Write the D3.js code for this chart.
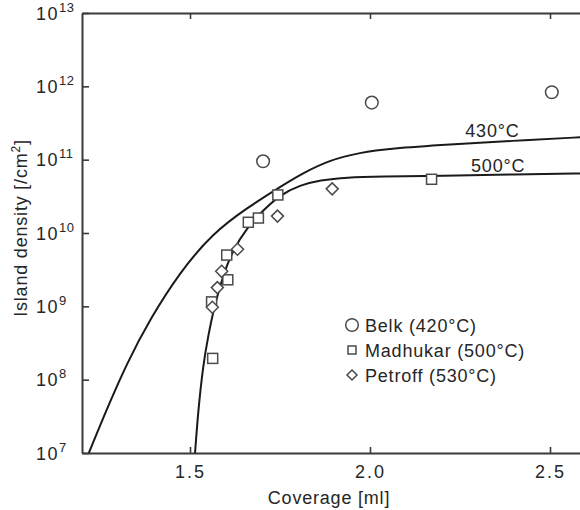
<!DOCTYPE html>
<html>
<head>
<meta charset="utf-8">
<script src="https://cdn.jsdelivr.net/npm/d3@7"></script>
<style>
  html, body { margin: 0; padding: 0; background: #fff; }
  svg { display: block; font-family: "Liberation Sans", Arial, sans-serif; }
  svg text { letter-spacing: 0.8px; }
</style>
</head>
<body>
<svg id="chart" width="580" height="510"></svg>
<script>
(function () {
    'use strict';

    // tick labels
    const xTicks = [1.5, 2.0, 2.5];
    const yExps = [7, 8, 9, 10, 11, 12, 13];

    // model curves
    const c430X = [1.219, 1.269, 1.325, 1.389, 1.472, 1.564, 1.658, 1.750, 1.814, 1.889, 1.972, 2.056, 2.222, 2.389, 2.6];
    const c430Y = [1e7, 3.98e7, 1.69e8, 6.7e8, 2.94e9, 1.0e10, 2.19e10, 4.24e10, 6.58e10, 9.9e10, 1.25e11, 1.42e11, 1.61e11, 1.80e11, 2.04e11];

    const c500X = [1.514, 1.523, 1.537, 1.551, 1.565, 1.593, 1.620, 1.657, 1.704, 1.750, 1.806, 1.861, 1.935, 2.028, 2.2, 2.4, 2.6];
    const c500Y = [1e7, 3.9e7, 1.66e8, 4.0e8, 8.9e8, 2.8e9, 5.9e9, 1.16e10, 2.06e10, 3.3e10, 4.5e10, 5.25e10, 5.75e10, 5.9e10, 6.0e10, 6.3e10, 6.5e10];

    // measurements
    const belkX = [1.703, 2.005, 2.505];
    const belkY = [9.5e10, 6.0e11, 8.3e11];

    const madX = [1.744, 1.690, 1.662, 1.602, 1.605, 1.560, 1.563, 2.171];
    const madY = [3.3e10, 1.6e10, 1.4e10, 5.0e9, 2.3e9, 1.15e9, 1.95e8, 5.4e10];

    const petX = [1.895, 1.743, 1.632, 1.588, 1.576, 1.562];
    const petY = [4.0e10, 1.7e10, 6.0e9, 3.0e9, 1.8e9, 9.7e8];

    const legNames = ['Belk (420°C)', 'Madhukar (500°C)', 'Petroff (530°C)'];
    const legShapes = ['circle', 'square', 'diamond'];

    const ma = { top: 13, left: 82, right: 586, bottom: 453 };
    const sv = d3.select('#chart');
    const axCol = '#3a3a3a';
    const txCol = '#262626';

    const x = d3.scaleLinear().domain([1.2, 2.6]).range([ma.left, ma.right]);
    const y = d3.scaleLog().domain([1e7, 1e13]).range([ma.bottom, ma.top]);

    sv.append('defs').append('clipPath').attr('id', 'clip')
        .append('rect')
        .attr('x', ma.left).attr('y', ma.top)
        .attr('width', ma.right - ma.left).attr('height', ma.bottom - ma.top);

    function styleAxis(g) {
        g.select('.domain').attr('stroke', axCol).attr('stroke-width', 2);
        g.selectAll('.tick line').attr('stroke', axCol).attr('stroke-width', 1.6);
        g.attr('font-family', null).attr('font-size', null);
    }

    // bottom
    const gx = sv.append('g')
        .attr('transform', `translate(0,${ma.bottom})`)
        .call(d3.axisBottom(x).tickValues(xTicks).tickFormat(d3.format('.1f'))
            .tickSizeInner(-6).tickSizeOuter(0).tickPadding(12))
        .call(styleAxis);
    gx.selectAll('text')
        .attr('fill', txCol)
        .style('font-size', '18px')
        .style('letter-spacing', '2px');

    // top
    sv.append('g')
        .attr('transform', `translate(0,${ma.top})`)
        .call(d3.axisTop(x).tickValues(xTicks).tickFormat('')
            .tickSizeInner(-6).tickSizeOuter(0))
        .call(styleAxis);

    // left
    const gy = sv.append('g')
        .attr('transform', `translate(${ma.left},0)`)
        .call(d3.axisLeft(y).tickValues(yExps.map(e => Math.pow(10, e)))
            .tickSizeInner(-7).tickSizeOuter(0))
        .call(styleAxis);
    gy.selectAll('.tick text').remove();
    gy.selectAll('.tick').each(function (d, i) {
        const t = d3.select(this).append('text')
            .attr('x', 36 - ma.left)
            .attr('dy', '0.35em')
            .attr('text-anchor', 'start')
            .attr('fill', txCol)
            .style('font-size', '18px')
            .style('letter-spacing', '1.5px');
        t.append('tspan').text('10');
        t.append('tspan')
            .attr('dy', -8)
            .style('font-size', '13px')
            .style('letter-spacing', '0.5px')
            .text(yExps[i]);
    });

    // right
    sv.append('g')
        .attr('transform', `translate(${ma.right},0)`)
        .call(d3.axisRight(y).tickValues(yExps.map(e => Math.pow(10, e))).tickFormat('')
            .tickSizeInner(-5).tickSizeOuter(0))
        .call(styleAxis);

    // axis titles
    sv.append('text')
        .attr('x', 329)
        .attr('y', 504)
        .attr('text-anchor', 'middle')
        .attr('fill', txCol)
        .style('font-size', '18px')
        .text('Coverage [ml]');

    const yl = sv.append('text')
        .attr('transform', 'translate(27,228) rotate(-90)')
        .attr('text-anchor', 'middle')
        .attr('fill', txCol)
        .style('font-size', '18px');
    yl.append('tspan').text('Island density [/cm');
    yl.append('tspan').attr('dy', -7).style('font-size', '12px').text('2');
    yl.append('tspan').attr('dy', 7).text(']');

    // curves
    const line = d3.line()
        .x(d => x(d[0]))
        .y(d => y(d[1]))
        .curve(d3.curveBasis);

    const cv = sv.append('g').attr('clip-path', 'url(#clip)');
    [[c430X, c430Y], [c500X, c500Y]].forEach(([xs, ys]) => {
        cv.append('path')
            .datum(xs.map((v, i) => [v, ys[i]]))
            .attr('d', line)
            .attr('fill', 'none')
            .attr('stroke', '#1a1a1a')
            .attr('stroke-width', 2);
    });

    sv.append('text')
        .attr('x', x(2.34)).attr('y', 137)
        .attr('text-anchor', 'middle')
        .attr('fill', txCol)
        .style('font-size', '18px')
        .text('430°C');
    sv.append('text')
        .attr('x', x(2.356)).attr('y', 172)
        .attr('text-anchor', 'middle')
        .attr('fill', txCol)
        .style('font-size', '18px')
        .text('500°C');

    // markers
    const mkCol = '#4a4a4a';
    function marker(g, shape, s) {
        if (shape === 'circle') {
            g.append('circle').attr('r', s);
        } else if (shape === 'square') {
            g.append('rect').attr('x', -s).attr('y', -s).attr('width', 2 * s).attr('height', 2 * s);
        } else {
            g.append('path').attr('d', `M0,${-s}L${s},0L0,${s}L${-s},0Z`);
        }
        g.selectAll('*')
            .attr('fill', 'white')
            .attr('stroke', mkCol)
            .attr('stroke-width', 1.5);
    }

    const series = [
        { xs: belkX, ys: belkY, shape: 'circle', s: 6.3 },
        { xs: madX, ys: madY, shape: 'square', s: 5 },
        { xs: petX, ys: petY, shape: 'diamond', s: 6 }
    ];
    series.forEach(se => {
        se.xs.forEach((v, i) => {
            const g = sv.append('g')
                .attr('transform', `translate(${x(v)},${y(se.ys[i])})`);
            marker(g, se.shape, se.s);
        });
    });

    // legend
    const le = sv.append('g').attr('transform', 'translate(352,325)');
    const legSize = [6.3, 4, 5];
    legNames.forEach((nm, i) => {
        const it = le.append('g').attr('transform', `translate(0,${i * 25})`);
        marker(it.append('g'), legShapes[i], legSize[i]);
        it.append('text')
            .attr('x', 13)
            .attr('y', 6.5)
            .attr('fill', txCol)
            .style('font-size', '18px')
            .text(nm);
    });
})();
</script>
</body>
</html>
